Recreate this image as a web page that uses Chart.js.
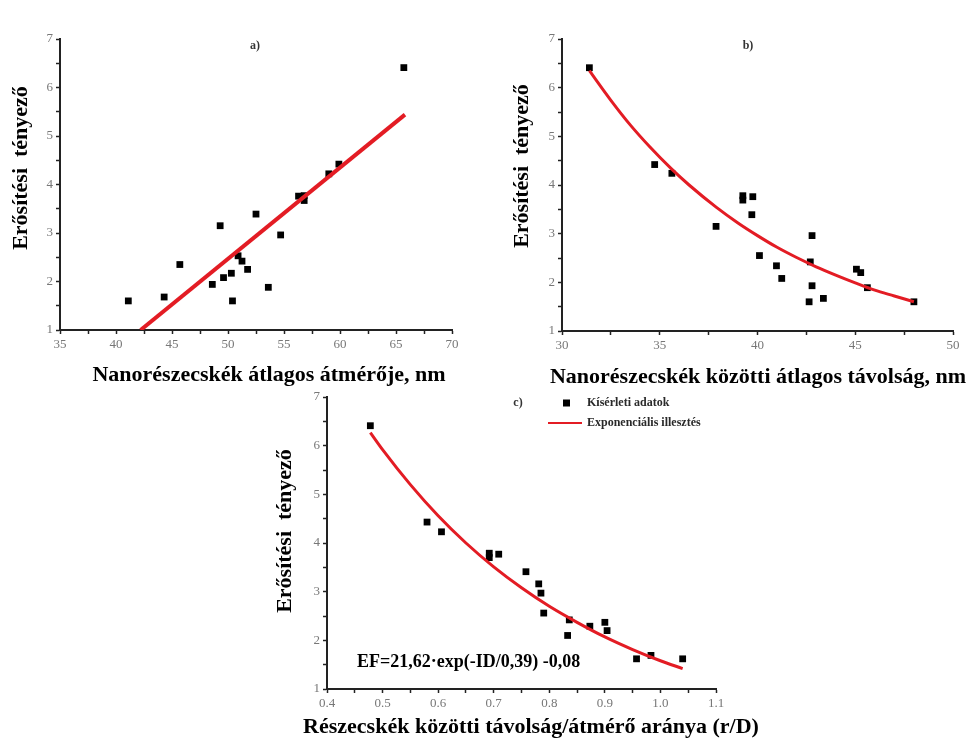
<!DOCTYPE html>
<html><head><meta charset="utf-8">
<script src="https://cdn.jsdelivr.net/npm/chart.js@4.4.1/dist/chart.umd.min.js"></script>
<style>
html,body{margin:0;padding:0;background:#fff;}
#wrap{position:relative;width:967px;height:740px;overflow:hidden;background:#fff;}
canvas{position:absolute;}
</style></head><body>
<div id="wrap">
<canvas id="ca" width="480" height="395" style="left:0px;top:0px;width:480px;height:395px"></canvas>
<canvas id="cb" width="487" height="395" style="left:480px;top:0px;width:487px;height:395px"></canvas>
<canvas id="cc" width="497" height="355" style="left:270px;top:385px;width:497px;height:355px"></canvas>
</div>
<script>
// ---- data ----
const yAxisTitle = 'Erősítési  tényező';
const titleA = 'Nanorészecskék átlagos átmérője, nm';
const titleB = 'Nanorészecskék közötti átlagos távolság, nm';
const titleC = 'Részecskék közötti távolság/átmérő aránya (r/D)';
const legendLabels = ['Kísérleti adatok', 'Exponenciális illesztés'];
const equationC = 'EF=21,62·exp(-ID/0,39) -0,08';

// panel a: diameter vs enhancement factor
const diameterNm = [41.1, 44.3, 45.7, 48.6, 49.3, 49.6, 50.3, 50.4, 50.9, 51.25, 51.75, 52.5, 53.6, 54.7, 56.3, 56.8, 56.8, 59.0, 59.9, 65.7];
const efA        = [1.60, 1.68, 2.35, 1.94, 3.15, 2.08, 2.17, 1.60, 2.53, 2.42, 2.25, 3.39, 1.88, 2.96, 3.76, 3.77, 3.67, 4.22, 4.42, 6.41];
const linFitX = [42.2, 65.8];
const linFitY = [1.0, 5.44];

// panel b: distance vs enhancement factor
const distanceNm = [31.4, 34.74, 35.62, 37.88, 39.25, 39.25, 39.76, 39.71, 40.1, 40.97, 41.24, 42.79, 42.7, 42.79, 42.64, 43.37, 45.06, 45.28, 45.62, 48.0];
const efB        = [6.41, 4.42, 4.24, 3.15, 3.78, 3.69, 3.76, 3.39, 2.55, 2.34, 2.08, 2.96, 2.42, 1.93, 1.60, 1.67, 2.27, 2.20, 1.89, 1.60];
const expFitBX = [31.4, 32.5, 33.5, 34.5, 35.6, 36.5, 37.9, 39.0, 40.0, 41.0, 42.0, 43.0, 44.0, 45.0, 46.0, 47.0, 48.0];
const expFitBY = [6.35, 5.74, 5.23, 4.78, 4.33, 4.00, 3.54, 3.22, 2.96, 2.72, 2.51, 2.32, 2.15, 1.99, 1.84, 1.72, 1.60];

// panel c: ratio r/D vs enhancement factor
const ratioRD = [0.478, 0.58, 0.606, 0.692, 0.692, 0.709, 0.758, 0.781, 0.785, 0.79, 0.836, 0.833, 0.873, 0.90, 0.904, 0.957, 0.983, 1.04];
const efC     = [6.41, 4.43, 4.23, 3.79, 3.70, 3.77, 3.41, 3.16, 2.97, 2.56, 2.42, 2.10, 2.29, 2.37, 2.20, 1.62, 1.69, 1.62];
const expFitCX = [0.478, 0.50, 0.55, 0.60, 0.65, 0.70, 0.75, 0.80, 0.85, 0.90, 0.95, 1.00, 1.04];
const expFitCY = [6.27, 5.92, 5.20, 4.56, 4.00, 3.51, 3.08, 2.70, 2.37, 2.07, 1.81, 1.58, 1.42];

const yTickLabels = ['1','2','3','4','5','6','7'];

// ---- styling helpers ----
const SERIF = "'Liberation Serif','Times New Roman',serif";
const RED = '#e31c24';
const pts = (xs, ys) => xs.map((x, i) => ({x: x, y: ys[i]}));

const textPlugin = {
  id: 'texts',
  afterDraw(chart, args, opts) {
    const ctx = chart.ctx;
    (opts.items || []).forEach(it => {
      ctx.save();
      ctx.font = it.font;
      ctx.fillStyle = it.color || '#000';
      ctx.textAlign = it.align || 'center';
      ctx.textBaseline = 'middle';
      ctx.translate(it.x, it.y);
      if (it.rotate) ctx.rotate(it.rotate);
      ctx.fillText(it.text, 0, 0);
      ctx.restore();
    });
    const lg = opts.legend;
    if (lg) {
      const ds = chart.data.datasets;
      ctx.save();
      ctx.font = 'bold 12px ' + SERIF;
      ctx.textAlign = 'left';
      ctx.textBaseline = 'middle';
      ctx.fillStyle = '#000';
      ctx.fillRect(lg.x + 15, lg.y - 3.5, 7, 7);
      ctx.fillStyle = '#2a2a2a';
      ctx.fillText(ds[0].label, lg.x + 39, lg.y);
      ctx.strokeStyle = RED;
      ctx.lineWidth = 2;
      ctx.beginPath();
      ctx.moveTo(lg.x, lg.y + 20);
      ctx.lineTo(lg.x + 34, lg.y + 20);
      ctx.stroke();
      ctx.fillText(ds[1].label, lg.x + 39, lg.y + 20);
      ctx.restore();
    }
  }
};

function makeScales(xMin, xMax, xStep, xMajor, yWidth, xHeight, xDecimals) {
  const tickFont = {family: SERIF, size: 13};
  return {
    x: {
      type: 'linear', min: xMin, max: xMax,
      afterFit: s => { s.height = xHeight; },
      border: {display: true, color: '#222', width: 2},
      grid: {display: true, drawOnChartArea: false, drawTicks: true, tickLength: 4, tickColor: '#222', tickWidth: 1.5},
      ticks: {
        stepSize: xStep, autoSkip: false, maxRotation: 0, padding: 3,
        color: '#777', font: tickFont,
        callback: v => {
          const r = Math.round(v / xMajor);
          return Math.abs(v / xMajor - r) < 1e-6 ? (r * xMajor).toFixed(xDecimals) : '';
        }
      }
    },
    y: {
      type: 'linear', min: 1, max: 7,
      afterFit: s => { s.width = yWidth; },
      border: {display: true, color: '#222', width: 2},
      grid: {display: true, drawOnChartArea: false, drawTicks: true, tickLength: 4, tickColor: '#222', tickWidth: 1.5},
      ticks: {
        stepSize: 0.5, autoSkip: false, padding: 3,
        color: '#777', font: tickFont,
        callback: v => {
          const i = yTickLabels.indexOf(String(v));
          return i >= 0 ? yTickLabels[i] : '';
        }
      }
    }
  };
}

function makeChart(id, cfg) {
  return new Chart(document.getElementById(id), {
    type: 'scatter',
    data: {
      datasets: [
        {label: legendLabels[0], data: pts(cfg.xs, cfg.ys), order: 1,
         pointStyle: 'rect', pointRadius: 4.8, pointHoverRadius: 4.8,
         backgroundColor: '#000', borderColor: '#000', borderWidth: 0},
        {label: legendLabels[1], data: pts(cfg.fx, cfg.fy), order: 0, showLine: true,
         pointRadius: 0, pointHoverRadius: 0, borderColor: RED, backgroundColor: RED,
         borderWidth: cfg.lw, tension: 0.4, cubicInterpolationMode: 'monotone'}
      ]
    },
    options: {
      responsive: false, animation: false, events: [],
      layout: {padding: cfg.padding},
      plugins: {legend: {display: false}, tooltip: {enabled: false}, texts: cfg.texts},
      scales: cfg.scales
    },
    plugins: [textPlugin]
  });
}

const titleFont = 'bold 22px ' + SERIF;
const panelFont = 'bold 12px ' + SERIF;

makeChart('ca', {
  xs: diameterNm, ys: efA, fx: linFitX, fy: linFitY, lw: 4,
  padding: {top: 39, right: 28, left: 0, bottom: 0},
  scales: makeScales(35, 70, 2.5, 5, 60, 65, 0),
  texts: {items: [
    {text: 'a)', x: 255, y: 46, font: panelFont, color: '#333'},
    {text: titleA, x: 269, y: 375, font: titleFont},
    {text: yAxisTitle, x: 21, y: 168, font: titleFont, rotate: -Math.PI / 2}
  ]}
});

makeChart('cb', {
  xs: distanceNm, ys: efB, fx: expFitBX, fy: expFitBY, lw: 3,
  padding: {top: 39, right: 14, left: 0, bottom: 0},
  scales: makeScales(30, 50, 2.5, 5, 82, 64, 0),
  texts: {items: [
    {text: 'b)', x: 268, y: 46, font: panelFont, color: '#333'},
    {text: titleB, x: 278, y: 377, font: titleFont},
    {text: yAxisTitle, x: 42, y: 166, font: titleFont, rotate: -Math.PI / 2}
  ]}
});

makeChart('cc', {
  xs: ratioRD, ys: efC, fx: expFitCX, fy: expFitCY, lw: 3,
  padding: {top: 12, right: 51, left: 0, bottom: 0},
  scales: makeScales(0.4, 1.1, 0.05, 0.1, 57, 51, 1),
  texts: {
    items: [
      {text: 'c)', x: 248, y: 18, font: panelFont, color: '#333'},
      {text: titleC, x: 261, y: 342, font: titleFont},
      {text: yAxisTitle, x: 15, y: 146, font: titleFont, rotate: -Math.PI / 2},
      {text: equationC, x: 87, y: 277, font: 'bold 18px ' + SERIF, align: 'left'}
    ],
    legend: {x: 278, y: 18}
  }
});
</script>
</body></html>
